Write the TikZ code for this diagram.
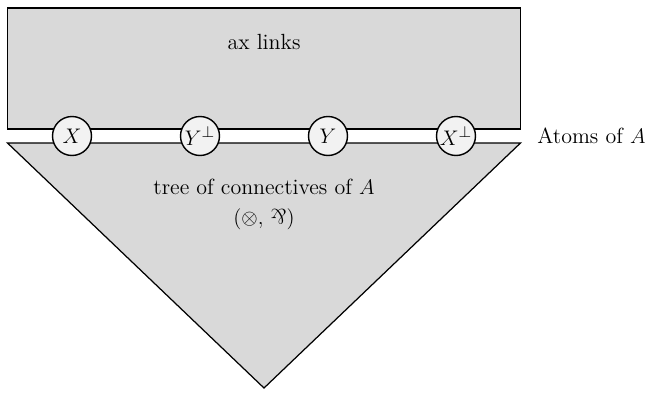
\documentclass[tikz,border=0pt]{standalone}
\usepackage{graphicx}
\newcommand{\myparr}{\mathbin{\rotatebox[origin=c]{180}{$\&$}}}
\definecolor{boxgray}{HTML}{D9D9D9}
\definecolor{atomfill}{HTML}{F2F2F2}
\tikzset{
  region/.style={draw=black, fill=boxgray, line width=0.7pt},
  atom/.style={circle, draw=black, fill=atomfill, line width=0.8pt, minimum size=0.78cm, inner sep=0pt, font=\fontsize{12.5}{15}\selectfont},
  lbl/.style={font=\fontsize{12.5}{15}\selectfont, inner sep=0pt}
}
\begin{document}
\begin{tikzpicture}[x=0.02cm,y=-0.02cm]
\useasboundingbox (0,0) rectangle (662,392);
\fill[white] (0,0) rectangle (662,392);
\draw[region] (7.5,8) rectangle (520.5,129);
\draw[region] (7.5,143) -- (520.5,143) -- (264,388) -- cycle;
\node[lbl] (ax) at (264,42) {ax links};
\node[atom] (x) at (72,136) {$X$};
\node[atom] (yp) at (200,136) {$Y^{\perp}$};
\node[atom] (y) at (328,136) {$Y$};
\node[atom] (xp) at (456,136) {$X^{\perp}$};
\node[lbl, anchor=west] (atoms) at (537,136) {Atoms of $A$};
\node[lbl] (tree) at (264,187) {tree of connectives of $A$};
\node[lbl] (ops) at (264,219) {$(\otimes,\,\myparr)$};
\end{tikzpicture}
\end{document}
